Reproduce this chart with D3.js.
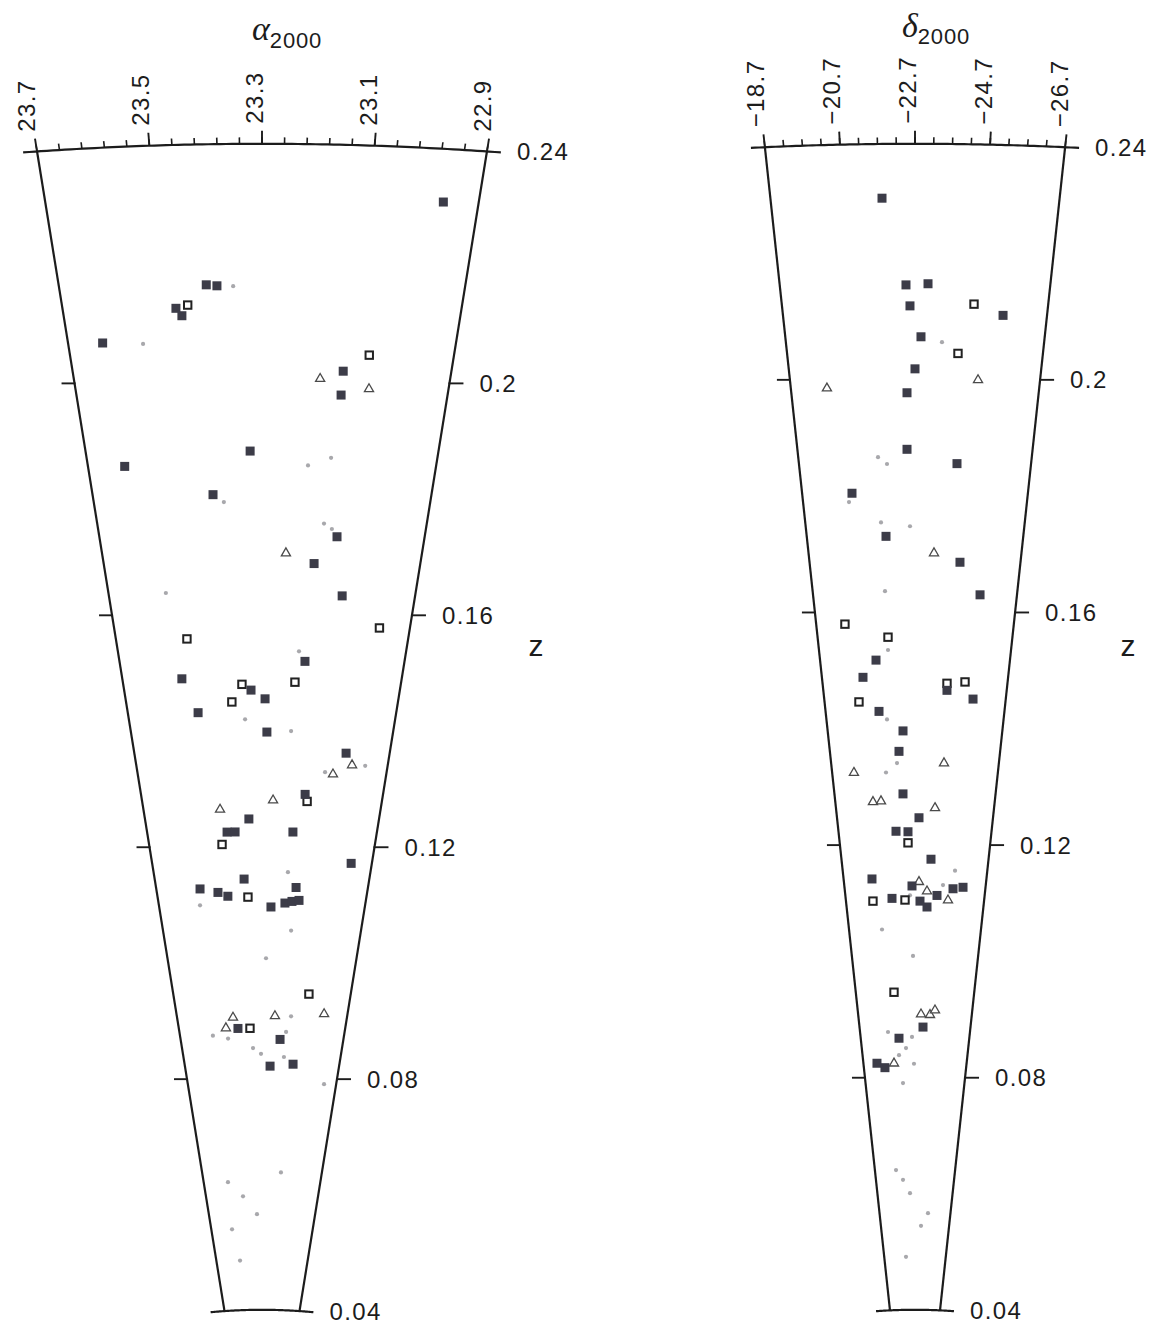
<!DOCTYPE html>
<html>
<head>
<meta charset="utf-8">
<script src="https://cdn.jsdelivr.net/npm/d3@7"></script>
<style>
  body { margin: 0; background: #fff; }
  text { font-family: "Liberation Sans", Arial, sans-serif; fill: #1c1c1c; }
</style>
</head>
<body>
<svg id="chart" width="1162" height="1325"></svg>
<script>
// Redshift limits of both cones
const zRange = [0.04, 0.24];
const zTicks = [0.04, 0.08, 0.12, 0.16, 0.2, 0.24];
const zTickLabels = ["0.04", "0.08", "0.12", "0.16", "0.2", "0.24"];

// Right ascension cone (hours)
const raDomain = [23.7, 22.9];
const raMajorTicks = [23.7, 23.5, 23.3, 23.1, 22.9];
const raTickLabels = ["23.7", "23.5", "23.3", "23.1", "22.9"];

// Declination cone (degrees)
const decDomain = [-18.7, -26.7];
const decMajorTicks = [-18.7, -20.7, -22.7, -24.7, -26.7];
const decTickLabels = ["\u221218.7", "\u221220.7", "\u221222.7", "\u221224.7", "\u221226.7"];

// Galaxies: [RA (h), z, class]   F = filled square, O = open square, T = triangle, G = faint dot
const raGalaxies = [
  [22.965,0.2309,'F'],[23.410,0.2159,'F'],[23.389,0.2157,'F'],[23.357,0.2156,'G'],
  [23.473,0.2120,'F'],[23.449,0.2125,'O'],[23.462,0.2107,'F'],[23.629,0.2066,'F'],
  [23.546,0.2061,'G'],[23.076,0.2041,'O'],[23.128,0.2012,'F'],[23.176,0.1998,'T'],
  [23.070,0.1983,'T'],[23.129,0.1971,'F'],[23.327,0.1873,'F'],[23.142,0.1863,'G'],
  [23.194,0.1849,'G'],[23.616,0.1853,'F'],[23.416,0.1799,'F'],[23.391,0.1786,'G'],
  [23.149,0.1750,'G'],[23.129,0.1741,'G'],[23.115,0.1728,'F'],[23.240,0.1698,'T'],
  [23.168,0.1681,'F'],[23.551,0.1633,'G'],[23.090,0.1627,'F'],[22.982,0.1575,'O'],
  [23.506,0.1553,'O'],[23.197,0.1530,'G'],[23.179,0.1513,'F'],[23.530,0.1485,'F'],
  [23.358,0.1473,'O'],[23.332,0.1463,'F'],[23.205,0.1477,'O'],[23.389,0.1443,'O'],
  [23.291,0.1448,'F'],[23.491,0.1426,'F'],[23.351,0.1413,'G'],[23.285,0.1391,'F'],
  [23.211,0.1393,'G'],[23.036,0.1358,'F'],[23.013,0.1338,'T'],[22.971,0.1338,'G'],
  [23.071,0.1321,'T'],[23.097,0.1324,'G'],[23.157,0.1285,'F'],[23.149,0.1273,'O'],
  [23.263,0.1274,'T'],[23.442,0.1259,'T'],[23.345,0.1242,'F'],[23.422,0.1220,'F'],
  [23.394,0.1220,'F'],[23.192,0.1220,'F'],[23.442,0.1199,'O'],[22.975,0.1170,'F'],
  [23.204,0.1151,'G'],[23.367,0.1139,'F'],[23.535,0.1124,'F'],[23.468,0.1117,'F'],
  [23.431,0.1110,'F'],[23.354,0.1108,'O'],[23.541,0.1096,'G'],[23.171,0.1125,'F'],
  [23.265,0.1091,'F'],[23.211,0.1098,'F'],[23.184,0.1101,'F'],[23.157,0.1103,'F'],
  [23.182,0.1051,'G'],[23.283,0.1003,'G'],[23.088,0.0943,'O'],[23.009,0.0910,'T'],
  [23.239,0.0904,'T'],[23.163,0.0904,'G'],[23.437,0.0902,'T'],[23.474,0.0884,'T'],
  [23.416,0.0883,'F'],[23.358,0.0883,'O'],[23.540,0.0872,'G'],[23.467,0.0866,'G'],
  [23.183,0.0877,'G'],[23.211,0.0864,'F'],[23.345,0.0849,'G'],[23.305,0.0839,'G'],
  [23.188,0.0834,'G'],[23.258,0.0818,'F'],[23.139,0.0822,'F'],[22.965,0.0790,'G'],
  [23.173,0.0636,'G'],[23.534,0.0620,'G'],[23.436,0.0595,'G'],[23.338,0.0564,'G'],
  [23.537,0.0539,'G'],[23.493,0.0485,'G']
];

// Galaxies: [Dec (deg), z, class]
const decGalaxies = [
  [-21.786,0.2307,'F'],[-22.433,0.2158,'F'],[-23.085,0.2160,'F'],[-22.549,0.2122,'F'],
  [-24.474,0.2126,'O'],[-25.370,0.2108,'F'],[-22.885,0.2069,'F'],[-23.537,0.2060,'G'],
  [-24.046,0.2041,'O'],[-22.700,0.2014,'F'],[-24.718,0.1996,'T'],[-19.861,0.1983,'T'],
  [-22.441,0.1973,'F'],[-22.428,0.1876,'F'],[-21.431,0.1863,'G'],[-21.733,0.1851,'G'],
  [-24.149,0.1852,'F'],[-20.465,0.1802,'F'],[-20.339,0.1787,'G'],[-21.459,0.1751,'G'],
  [-22.517,0.1744,'G'],[-21.627,0.1727,'F'],[-23.415,0.1698,'T'],[-24.408,0.1683,'F'],
  [-21.526,0.1633,'G'],[-25.254,0.1628,'F'],[-19.862,0.1578,'O'],[-21.590,0.1554,'O'],
  [-21.574,0.1532,'G'],[-21.055,0.1515,'F'],[-20.463,0.1486,'F'],[-24.086,0.1475,'O'],
  [-24.097,0.1463,'F'],[-24.863,0.1478,'O'],[-25.260,0.1449,'F'],[-20.220,0.1444,'O'],
  [-21.088,0.1427,'F'],[-21.434,0.1413,'G'],[-22.150,0.1393,'F'],[-21.947,0.1358,'F'],
  [-21.840,0.1338,'G'],[-24.085,0.1338,'T'],[-19.749,0.1323,'T'],[-21.298,0.1322,'G'],
  [-22.103,0.1285,'F'],[-20.588,0.1272,'T'],[-20.993,0.1273,'T'],[-23.714,0.1261,'T'],
  [-22.905,0.1244,'F'],[-21.706,0.1221,'F'],[-22.333,0.1220,'F'],[-22.328,0.1201,'O'],
  [-23.571,0.1173,'F'],[-24.917,0.1154,'G'],[-20.288,0.1140,'F'],[-22.530,0.1127,'F'],
  [-22.925,0.1134,'T'],[-24.285,0.1129,'G'],[-23.386,0.1118,'T'],[-24.864,0.1123,'F'],
  [-25.426,0.1126,'F'],[-23.965,0.1111,'F'],[-20.262,0.1102,'O'],[-21.371,0.1106,'F'],
  [-22.121,0.1103,'O'],[-22.412,0.1111,'G'],[-22.990,0.1101,'F'],[-23.403,0.1091,'F'],
  [-24.612,0.1103,'T'],[-20.698,0.1053,'G'],[-22.573,0.1007,'G'],[-21.280,0.0945,'O'],
  [-23.123,0.0907,'T'],[-23.758,0.0906,'T'],[-24.098,0.0914,'T'],[-23.278,0.0885,'F'],
  [-20.732,0.0877,'G'],[-22.479,0.0868,'G'],[-21.519,0.0866,'F'],[-22.023,0.0849,'G'],
  [-21.479,0.0837,'G'],[-19.750,0.0824,'F'],[-20.347,0.0816,'F'],[-21.070,0.0823,'T'],
  [-22.622,0.0822,'G'],[-21.728,0.0789,'G'],[-20.804,0.0640,'G'],[-21.469,0.0623,'G'],
  [-22.168,0.0600,'G'],[-24.167,0.0566,'G'],[-23.405,0.0544,'G'],[-21.528,0.0491,'G']
];

// ---- geometry shared by both cones ----
const apexY = 1543;          // screen y of z = 0
const squeeze = 1.538;       // horizontal stretch of the cone opening
const radius = d3.scaleLinear().domain([0, 0.24]).range([0, 1399.2]);
const DEG = Math.PI / 180;

const svg = d3.select("#chart");

function drawCone(opt) {
  const g = svg.append("g");
  const angle = d3.scaleLinear().domain(opt.domain).range(opt.halfAngle);
  const projA = (a, z) => {
    const r = radius(z);
    return [opt.cx + squeeze * r * Math.sin(a), apexY - r * Math.cos(a)];
  };
  const proj = (v, z) => projA(angle(v) * DEG, z);
  const outward = v => {
    const a = angle(v) * DEG;
    const dx = squeeze * Math.sin(a), dy = -Math.cos(a);
    const n = Math.hypot(dx, dy);
    return [dx / n, dy / n];
  };
  const line = d3.line();
  const stroke = "#1c1c1c";

  // side edges
  opt.domain.forEach(v => {
    g.append("path").attr("d", line([proj(v, zRange[0]), proj(v, zRange[1])]))
      .attr("fill", "none").attr("stroke", stroke).attr("stroke-width", 2.2);
  });

  // bounding arcs at the lowest and highest redshift, slightly overshooting the edges
  const a0 = angle(opt.domain[0]) * DEG, a1 = angle(opt.domain[1]) * DEG;
  zRange.forEach(z => {
    const ext = 14 / (squeeze * radius(z));
    const pts = d3.range(81).map(i => projA(a0 - ext + (a1 - a0 + 2 * ext) * i / 80, z));
    g.append("path").attr("d", line(pts))
      .attr("fill", "none").attr("stroke", stroke).attr("stroke-width", 2.2);
  });

  // angular ticks along the outer arc
  const zTop = zRange[1];
  opt.minorTicks.forEach(v => {
    const p = proj(v, zTop), u = outward(v);
    g.append("line").attr("x1", p[0]).attr("y1", p[1])
      .attr("x2", p[0] + u[0] * 6.5).attr("y2", p[1] + u[1] * 6.5)
      .attr("stroke", stroke).attr("stroke-width", 1.6);
  });
  opt.majorTicks.forEach((v, i) => {
    const p = proj(v, zTop), u = outward(v);
    g.append("line").attr("x1", p[0]).attr("y1", p[1])
      .attr("x2", p[0] + u[0] * 13).attr("y2", p[1] + u[1] * 13)
      .attr("stroke", stroke).attr("stroke-width", 1.9);
    const lx = p[0] + u[0] * 20 + 1, ly = p[1] + u[1] * 20;
    g.append("text")
      .attr("transform", `translate(${lx},${ly}) rotate(-90)`)
      .attr("text-anchor", "start")
      .attr("font-size", 24).attr("letter-spacing", 1.4)
      .text(opt.tickLabels[i]);
  });

  // redshift ticks on both edges
  zTicks.forEach((z, i) => {
    const pl = proj(opt.domain[0], z), pr = proj(opt.domain[1], z);
    if (z > zRange[0] && z < zRange[1]) {
      g.append("line").attr("x1", pl[0] + 1).attr("y1", pl[1]).attr("x2", pl[0] - 13).attr("y2", pl[1])
        .attr("stroke", stroke).attr("stroke-width", 1.9);
      g.append("line").attr("x1", pr[0] - 1).attr("y1", pr[1]).attr("x2", pr[0] + 14).attr("y2", pr[1])
        .attr("stroke", stroke).attr("stroke-width", 1.9);
    }
    g.append("text").attr("x", pr[0] + 30).attr("y", pr[1]).attr("dy", "0.36em")
      .attr("font-size", 24).attr("letter-spacing", 1.4)
      .text(zTickLabels[i]);
  });

  // axis titles
  const t = g.append("text").attr("x", opt.titleX).attr("y", opt.titleY);
  t.append("tspan").attr("font-family", "'Liberation Serif', 'DejaVu Serif', serif")
    .attr("font-style", "italic").attr("font-size", 34).text(opt.title);
  t.append("tspan").attr("dy", opt.subDy).attr("font-size", 22).attr("letter-spacing", 0.8).text("2000");
  g.append("text").attr("x", opt.zLabelX).attr("y", 645).attr("dy", "0.35em")
    .attr("text-anchor", "middle").attr("font-size", 30).text("z");

  // galaxies
  const pts = opt.data.map(d => ({ p: proj(d[0], d[1]), c: d[2] }));
  const layer = g.append("g");
  layer.selectAll("circle.faint").data(pts.filter(d => d.c === "G")).join("circle")
    .attr("cx", d => d.p[0]).attr("cy", d => d.p[1]).attr("r", 2.1)
    .attr("fill", "#a8a8ac");
  const tri = d3.symbol().type(d3.symbolTriangle).size(36);
  layer.selectAll("path.tri").data(pts.filter(d => d.c === "T")).join("path")
    .attr("d", tri).attr("transform", d => `translate(${d.p[0]},${d.p[1]})`)
    .attr("fill", "#fff").attr("stroke", "#4a4a4a").attr("stroke-width", 1.3);
  layer.selectAll("rect.open").data(pts.filter(d => d.c === "O")).join("rect")
    .attr("x", d => d.p[0] - 3.7).attr("y", d => d.p[1] - 3.7)
    .attr("width", 7.4).attr("height", 7.4)
    .attr("fill", "#fff").attr("stroke", "#222").attr("stroke-width", 2);
  layer.selectAll("rect.filled").data(pts.filter(d => d.c === "F")).join("rect")
    .attr("x", d => d.p[0] - 4.5).attr("y", d => d.p[1] - 4.5)
    .attr("width", 9).attr("height", 9)
    .attr("fill", "#3c3c48");
}

drawCone({
  cx: 262, domain: raDomain, halfAngle: [-6, 6],
  minorTicks: d3.range(21).map(i => +(raDomain[0] - i * 0.04).toFixed(2)),
  majorTicks: raMajorTicks, tickLabels: raTickLabels,
  data: raGalaxies, title: "\u03b1", titleX: 252, titleY: 40, subDy: 8, zLabelX: 536
});

drawCone({
  cx: 915, domain: decDomain, halfAngle: [-4, 4],
  minorTicks: d3.range(17).map(i => +(decDomain[0] - i * 0.5).toFixed(1)),
  majorTicks: decMajorTicks, tickLabels: decTickLabels,
  data: decGalaxies, title: "\u03b4", titleX: 902, titleY: 37, subDy: 7, zLabelX: 1128
});
</script>
</body>
</html>
